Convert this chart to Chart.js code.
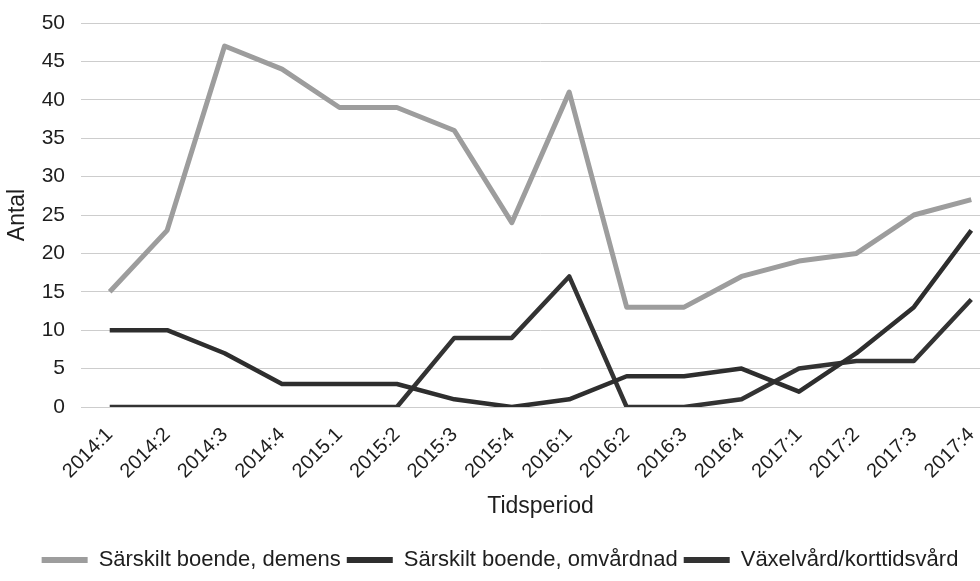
<!DOCTYPE html>
<html>
<head>
<meta charset="utf-8">
<script src="https://cdn.jsdelivr.net/npm/chart.js@4.4.1/dist/chart.umd.min.js"></script>
<style>
  html, body { margin: 0; padding: 0; background: #fff; overflow: hidden; }
  #wrap { width: 1000px; height: 581px; }
</style>
</head>
<body>
<div id="wrap"><canvas id="chart"></canvas></div>
<script>
// Tidsperioder (kvartal)
const periods = ['2014:1', '2014:2', '2014:3', '2014:4', '2015.1', '2015:2', '2015:3', '2015:4',
  '2016:1', '2016:2', '2016:3', '2016:4', '2017:1', '2017:2', '2017:3', '2017:4'];

const demens = [15, 23, 47, 44, 39, 39, 36, 24, 41, 13, 13, 17, 19, 20, 25, 27];
const omvardnad = [10, 10, 7, 3, 3, 3, 1, 0, 1, 4, 4, 5, 2, 7, 13, 23];
const vaxelvard = [0, 0, 0, 0, 0, 0, 9, 9, 17, 0, 0, 1, 5, 6, 6, 14];

const seriesNames = ['Särskilt boende, demens', 'Särskilt boende, omvårdnad', 'Växelvård/korttidsvård'];
const yTicks = { min: 0, max: 50, step: 5 };

Chart.defaults.font.family = '"Liberation Sans", Arial, sans-serif';
Chart.defaults.color = '#1e1e1e';

new Chart(document.getElementById('chart'), {
  type: 'line',
  data: {
    labels: periods,
    datasets: [
      { label: seriesNames[0], data: demens, borderColor: '#9d9d9d', borderWidth: 5 },
      { label: seriesNames[1], data: omvardnad, borderColor: '#2e2e2e', borderWidth: 4.5 },
      { label: seriesNames[2], data: vaxelvard, borderColor: '#333333', borderWidth: 4.5 }
    ].map(d => Object.assign(d, { pointRadius: 0, tension: 0, fill: false, borderJoinStyle: 'round' }))
  },
  options: {
    responsive: true,
    maintainAspectRatio: false,
    animation: false,
    layout: { padding: { top: 0, right: 0, left: 0, bottom: 0 } },
    plugins: {
      tooltip: { enabled: false },
      legend: {
        position: 'bottom',
        labels: {
          boxWidth: 46,
          boxHeight: 6,
          padding: 6,
          font: { size: 22 },
          generateLabels(chart) {
            return chart.data.datasets.map((ds, i) => ({
              text: ds.label,
              fillStyle: ds.borderColor,
              strokeStyle: ds.borderColor,
              lineWidth: 0,
              datasetIndex: i,
              fontColor: '#1e1e1e'
            }));
          }
        }
      }
    },
    scales: {
      x: {
        offset: true,
        afterFit(scale) { scale.height = 136; },
        grid: { display: false },
        border: { display: false },
        ticks: { autoSkip: false, maxRotation: 45, minRotation: 45, font: { size: 20 }, padding: 8 },
        title: { display: true, text: 'Tidsperiod', font: { size: 23 }, padding: { top: 4, bottom: 23 } }
      },
      y: {
        min: yTicks.min,
        max: yTicks.max,
        afterFit(scale) { scale.width = 81; scale.paddingTop = 23; scale.paddingBottom = 0; },
        grid: { color: '#cdcdcd', drawTicks: false, lineWidth: 1 },
        border: { display: false },
        ticks: { stepSize: yTicks.step, font: { size: 21 }, padding: 16 },
        title: { display: true, text: 'Antal', font: { size: 23 }, padding: 4 }
      }
    }
  }
});
</script>
</body>
</html>
